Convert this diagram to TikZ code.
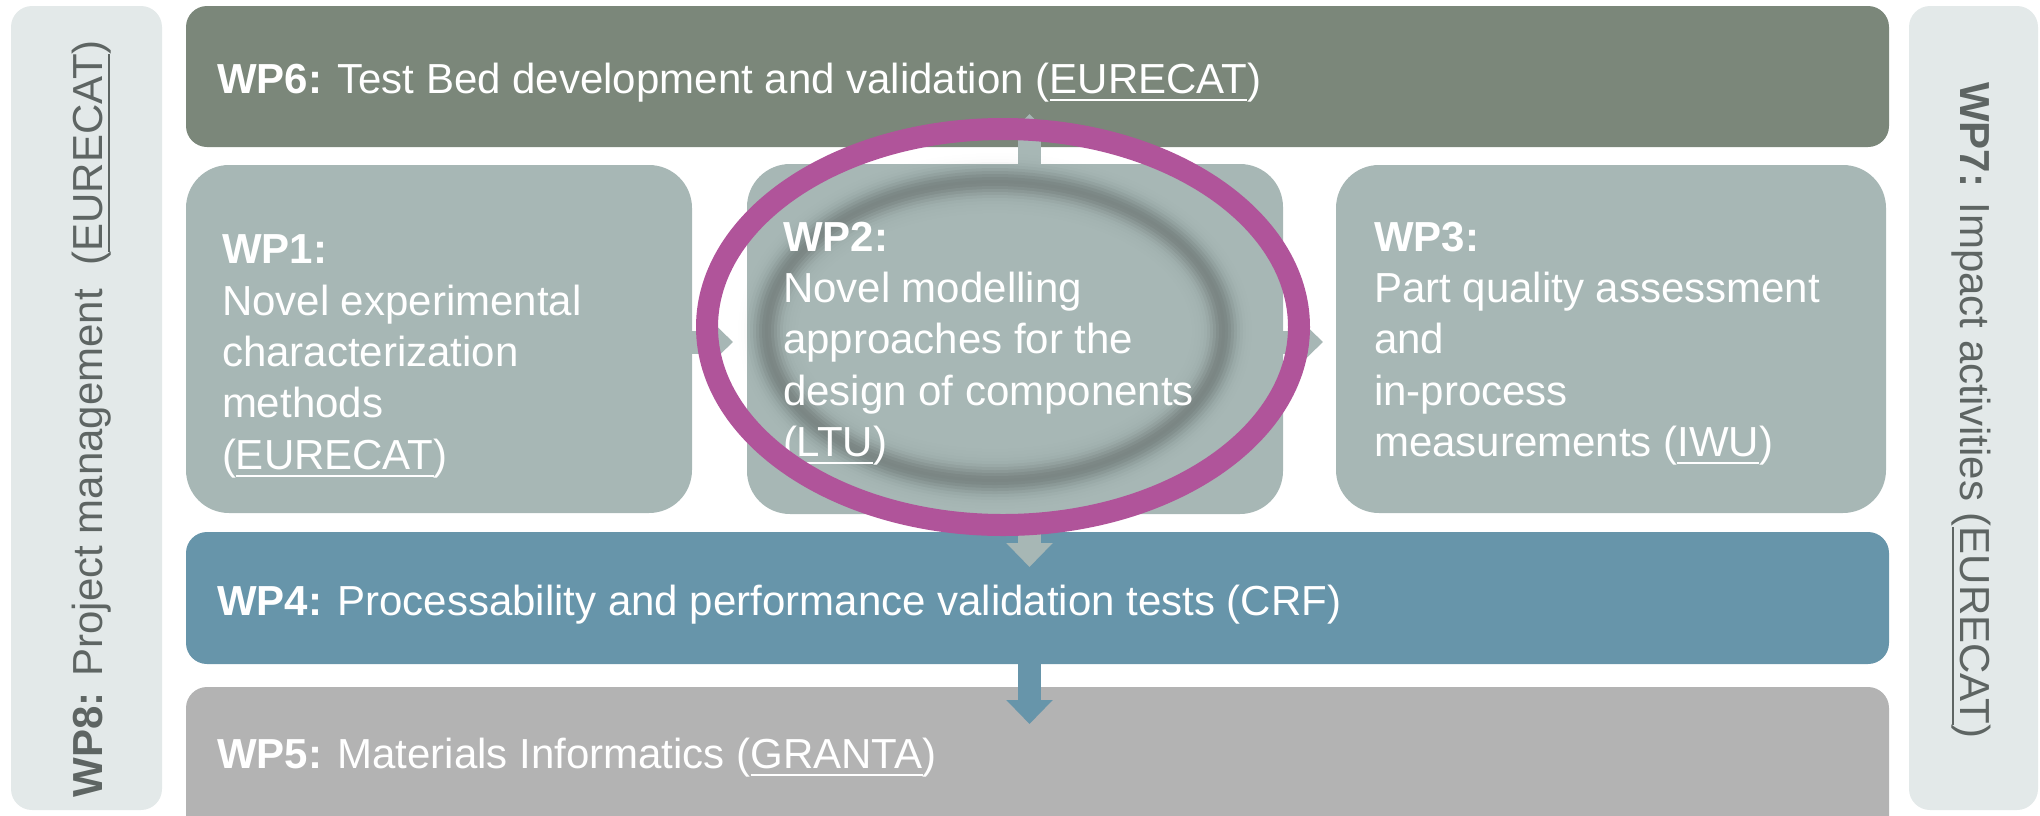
\documentclass[tikz,border=0pt]{standalone}
\usepackage{fontspec}
\setmainfont{Liberation Sans}
\usetikzlibrary{arrows.meta,calc}
\definecolor{cwpsix}{HTML}{7B877A}
\definecolor{cwpmid}{HTML}{A7B7B5}
\definecolor{cwpfour}{HTML}{6795AA}
\definecolor{cwpfive}{HTML}{B3B3B3}
\definecolor{cside}{HTML}{E3E9E9}
\definecolor{csidetext}{HTML}{5E6563}
\definecolor{cring}{HTML}{B0549A}
\newcommand\ulx[1]{\setbox0\hbox{#1}\rlap{\rule[-7.8pt]{\wd0}{2.2pt}}\box0}
\newcommand\wpfont{\fontsize{42pt}{51.3pt}\selectfont}
\begin{document}
\begin{tikzpicture}[x=1pt,y=-1pt,
  every node/.style={inner sep=0pt,outer sep=0pt},
  wpbox/.style={rectangle,draw=none},
  bigr/.style={rounded corners=43pt},
  smallr/.style={rounded corners=21pt},
  wptext/.style={text=white,font=\wpfont},
  wpmulti/.style={wptext,align=left,anchor=north west},
  sidetext/.style={text=csidetext,font=\wpfont},
  garrow/.style={line width=23pt,draw=cwpmid,-{Triangle[width=45pt,length=24pt]}},
  barrow/.style={line width=23pt,draw=cwpfour,-{Triangle[width=45pt,length=24pt]}},
  ring/.style={draw=cring,line width=22pt}]
\useasboundingbox (0,0) rectangle (2040,815);
\clip (0,0) rectangle (2040,815);

% boxes
\node[wpbox,smallr,fill=cside,minimum width=151pt,minimum height=804pt] (wp8) at (86.5,408) {};
\node[wpbox,smallr,fill=cside,minimum width=129pt,minimum height=804pt] (wp7) at (1973.5,408) {};
\node[wpbox,smallr,fill=cwpsix,minimum width=1703pt,minimum height=141pt] (wp6) at (1037.5,76.5) {};
\node[wpbox,bigr,fill=cwpmid,minimum width=506pt,minimum height=348pt] (wp1) at (439,339) {};
\node[wpbox,bigr,fill=cwpmid,minimum width=536pt,minimum height=350pt] (wp2) at (1015,339) {};
\node[wpbox,bigr,fill=cwpmid,minimum width=550pt,minimum height=348pt] (wp3) at (1611,339) {};
\node[wpbox,smallr,fill=cwpfour,minimum width=1703pt,minimum height=132pt] (wp4) at (1037.5,598) {};
\node[wpbox,smallr,fill=cwpfive,minimum width=1703pt,minimum height=153pt] (wp5) at (1037.5,763.5) {};

% connectors
\coordinate (tipsix) at (1029.5,114);
\coordinate (tipfour) at (1029.5,567);
\coordinate (tipfive) at (1029.5,724);
\coordinate (tiptwo) at (733,342);
\coordinate (tipthree) at (1323,342);
\draw[garrow] ($(wp2.north)+(14.5,2)$) -- (tipsix);
\draw[garrow] ($(wp2.south)+(14.5,-2)$) -- (tipfour);
\draw[barrow] ($(wp4.south)+(-8,-2)$) -- (tipfive);
\draw[garrow] ($(wp1.east)+(-2,3)$) -- (tiptwo);
\draw[garrow] ($(wp2.east)+(-2,3)$) -- (tipthree);

% soft inner shadow of the highlight (nested fills, no seams)
\foreach \d/\a in {33/0.0006,30/0.0011,27/0.0020,24/0.0048,21/0.0098,18/0.0180,15/0.0291,12/0.0416,9/0.0515,6/0.0533,3/0.0417,0/0.0161}{
  \fill[black,fill opacity=\a] (995,331) ellipse [x radius={230+\d}, y radius={151+\d}];
}
\foreach \d/\b in {-3/0.0517,-6/0.1476,-9/0.234,-12/0.311,-15/0.381,-18/0.443,-21/0.499,-24/0.550,-27/0.596,-30/0.636,-33/1}{
  \fill[cwpmid,fill opacity=\b] (995,331) ellipse [x radius={230+\d}, y radius={151+\d}];
}

% texts
\node[wptext,anchor=base west] (t6) at (217,93) {\textbf{WP6:} Test Bed development and validation (\ulx{EURECAT})};
\node[wptext,anchor=base west] (t4) at (217,615) {\textbf{WP4:} Processability and performance validation tests (CRF)};
\node[wptext,anchor=base west] (t5) at (217,768) {\textbf{WP5:} Materials Informatics (\ulx{GRANTA})};
\node[wpmulti] (t1) at (222,235) {\textbf{WP1:}\\Novel experimental\\characterization\\methods\\(\ulx{EURECAT})};
\node[wpmulti] (t2) at (783,222) {\textbf{WP2:}\\Novel modelling\\approaches for the\\design of components\\(\ulx{LTU})};
\node[wpmulti] (t3) at (1374,222) {\textbf{WP3:}\\Part quality assessment\\and\\in-process\\measurements (\ulx{IWU})};
\node[sidetext,rotate=90,anchor=base west] (t8) at (102,797) {\textbf{WP8:} Project management\ \ (\ulx{EURECAT})};
\node[sidetext,rotate=-90,anchor=base west] (t7) at (1960,82) {\textbf{WP7:} Impact activities (\ulx{EURECAT})};

% highlight ring
\draw[ring] (1003,327) ellipse [x radius=296, y radius=198];
\end{tikzpicture}
\end{document}
